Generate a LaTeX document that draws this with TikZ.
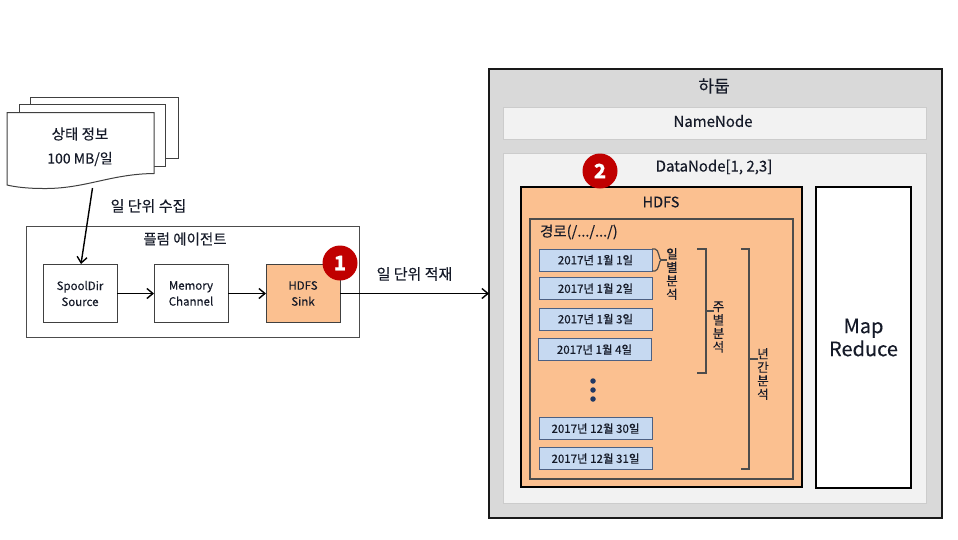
\documentclass[tikz,border=0pt]{standalone}
\usepackage{fontspec}
\setmainfont[FakeBold=0.25]{Noto Sans CJK KR}
\usetikzlibrary{arrows.meta,positioning}

\definecolor{peach}{HTML}{FBC090}
\definecolor{lblue}{HTML}{C6D9F1}
\definecolor{navy}{HTML}{1F3864}
\definecolor{badge}{HTML}{C00000}
\definecolor{lgray}{HTML}{F2F2F2}
\definecolor{mgray}{HTML}{D9D9D9}
\definecolor{txt}{HTML}{151A28}

\tikzset{
  txtbase/.style={inner sep=0pt,outer sep=0pt,text=txt,align=center},
  lbl/.style={txtbase,font=\fontsize{14.5}{17}\selectfont},
  compbox/.style={draw=black!75,line width=1pt,fill=white,minimum width=74pt,minimum height=58pt,txtbase,font=\fontsize{11.5}{16}\selectfont},
  sheet/.style={draw=black!75,line width=1pt,fill=white},
  datebox/.style={draw=navy!80,line width=1pt,fill=lblue,minimum width=113pt,minimum height=22pt,txtbase,font=\fontsize{11.5}{14}\selectfont},
  numdot/.style={circle,fill=badge,minimum size=35pt,inner sep=0pt,outer sep=0pt,text=white,font=\fontsize{20}{22}\bfseries\selectfont},
  bracket/.style={draw=black!70,line width=1.2pt},
  flow/.style={->,line width=1.4pt},
  vlbl/.style={txtbase,font=\fontsize{12.5}{13.5}\selectfont}
}

\begin{document}
\begin{tikzpicture}[x=1pt,y=-1pt,>={Straight Barb[length=6pt,width=10pt]}]
      \useasboundingbox (0,0) rectangle (958,539);

      % status files
      \draw[sheet] (30.5,97) rectangle (178,158);
      \draw[sheet] (19,104.5) rectangle (165.5,166);
      \draw[sheet] (7,112.5) -- (154,112.5) -- (154,173.5)
        .. controls (110,174) and (85,189) .. (43,188.5)
        .. controls (28,188.5) and (15,187) .. (7,185) -- cycle;
      \node[lbl] (status) at (80,134) {상태 정보};
      \node[lbl,font=\fontsize{14}{16}\selectfont] (volume) at (80,159) {100 MB/일};
      \coordinate (docout) at (92.5,188);

      % agent
      \node[draw=black!70,line width=1pt,fill=white,minimum width=333pt,minimum height=111pt,outer sep=0pt] (agent) at (192.5,281.5) {};
      \node[lbl] (agenttitle) at (185,239) {플럼 에이전트};
      \node[compbox] (spool) at (80,293.5) {SpoolDir\\Source};
      \node[compbox] (memory) [right = 37pt of spool] {Memory\\Channel};
      \node[compbox,fill=peach] (sink) [right = 38pt of memory] {HDFS\\Sink};
      \node[numdot] (one) at (340,263) {1};
      \node[lbl,font=\fontsize{15}{17}\selectfont] (collect) at (148.5,206) {일 단위 수집};
      \node[lbl,font=\fontsize{15}{17}\selectfont] (store) at (414.5,274) {일 단위 적재};

      % hadoop
      \node[draw=black!90,line width=2.4pt,fill=mgray,minimum width=453pt,minimum height=449pt,outer sep=0pt] (hadoop) at (715.5,293.5) {};
      \node[lbl,font=\fontsize{17}{19}\selectfont] (hadooptitle) at (714,86) {하둡};
      \node[draw=black!20,line width=1pt,fill=lgray,minimum width=423pt,minimum height=32pt,outer sep=0pt] (name) at (714.5,123) {};
      \node[lbl,font=\fontsize{15}{17}\selectfont] (nametitle) at (713,121) {NameNode};
      \node[draw=black!20,line width=1pt,fill=lgray,minimum width=423pt,minimum height=350pt,outer sep=0pt] (data) at (714.5,328) {};
      \node[lbl,font=\fontsize{15}{17}\selectfont] (datatitle) at (714,167) {DataNode[1, 2,3]};
      \node[draw=black,line width=2.6pt,fill=peach,minimum width=281pt,minimum height=300pt,outer sep=0pt] (hdfs) at (661.5,337) {};
      \node[lbl] (hdfstitle) at (661,202) {HDFS};
      \node[draw=black!70,line width=1.2pt,fill=peach,minimum width=263pt,minimum height=260pt,outer sep=0pt] (path) at (661.5,349) {};
      \node[lbl,anchor=west] (pathtitle) at (540,232) {경로(/.../.../)};
      \node[draw=black,line width=2.6pt,fill=white,minimum width=95pt,minimum height=301pt,outer sep=0pt,txtbase,font=\fontsize{20}{23}\selectfont] (map) at (863.5,337.5) {Map\\Reduce};
      \node[numdot] (two) at (600,171) {2};

      % dates
      \node[datebox] (d1) at (595.5,260) {2017년 1월 1일};
      \node[datebox] (d2) at (595.5,288.5) {2017년 1월 2일};
      \node[datebox] (d3) at (595.5,319) {2017년 1월 3일};
      \node[datebox] (d4) at (594.5,349.5) {2017년 1월 4일};
      \node[datebox] (d5) at (595.5,428.5) {2017년 12월 30일};
      \node[datebox] (d6) at (595.5,458.5) {2017년 12월 31일};
      \foreach \y/\n in {381/a,390/b,399/c}
        \node[circle,fill=navy,minimum size=5.5pt,inner sep=0pt] (dot\n) at (593,\y) {};

      % ranges
      \draw[bracket] (d1.north east) -- (655,249) .. controls (659,249) and (659,260) .. (661,260)
        .. controls (659,260) and (659,271) .. (655,271) -- (d1.south east);
      \draw[bracket] (661,260) -- (667,260);
      \draw[bracket] (697,249) -- (706,249) -- (706,373) -- (697,373);
      \draw[bracket] (706,311) -- (714,311);
      \draw[bracket] (741,249) -- (749,249) -- (749,469) -- (741,469);
      \draw[bracket] (749,359) -- (758,359);
      \node[vlbl] (daily) at (672,274) {일\\별\\분\\석};
      \node[vlbl] (weekly) at (718.5,327) {주\\별\\분\\석};
      \node[vlbl] (yearly) at (763,374) {년\\간\\분\\석};

      % flows
      \draw[flow] (docout) -- (81,264);
      \draw[flow] (spool) -- (memory);
      \draw[flow] (memory) -- (sink);
      \draw[flow] (sink) -- (hadoop.west |- sink);
    \end{tikzpicture}
\end{document}
